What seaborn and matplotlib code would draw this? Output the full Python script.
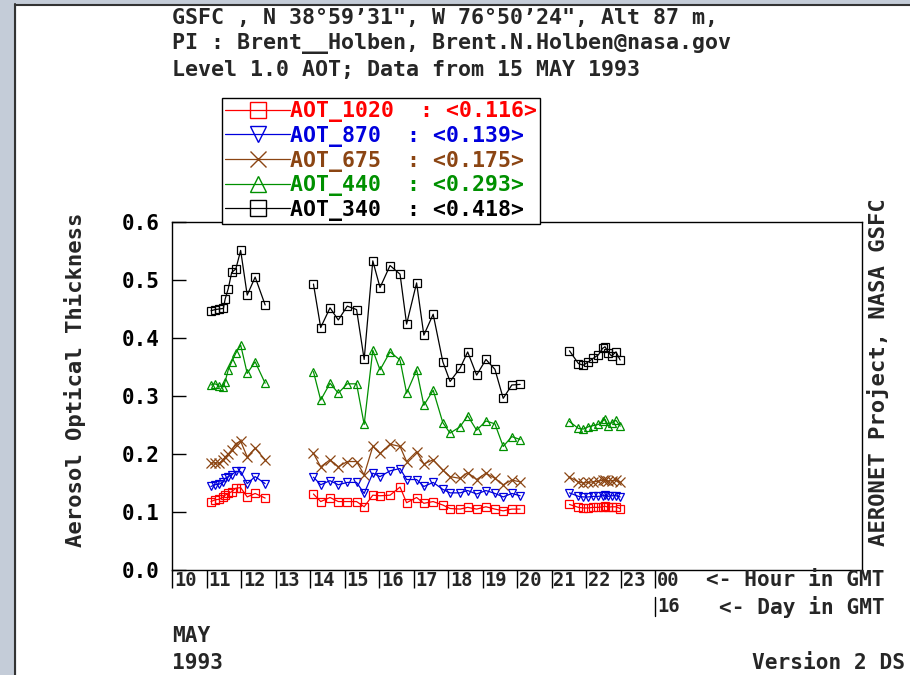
import numpy as np
import pandas as pd
import matplotlib
matplotlib.use("Agg")
import matplotlib.pyplot as plt
import seaborn as sns
from matplotlib import transforms
from matplotlib.lines import Line2D
from matplotlib.patches import Rectangle

# ---------------- data (hours in GMT, 15 May 1993) ----------------
hours_seg1 = [11.13, 11.25, 11.37, 11.49, 11.54, 11.63, 11.73, 11.85, 11.99, 12.18, 12.41, 12.70]
hours_seg2 = [14.10, 14.31, 14.58, 14.82, 15.08, 15.35, 15.57, 15.82, 16.03, 16.32, 16.61, 16.80,
              17.09, 17.30, 17.57, 17.85, 18.06, 18.35, 18.57, 18.83, 19.10, 19.36, 19.60, 19.85, 20.09]
hours_seg3 = [21.52, 21.78, 21.92, 22.07, 22.21, 22.36, 22.48, 22.55, 22.65, 22.74, 22.87, 22.99]

aot_340 = ([0.447, 0.449, 0.450, 0.451, 0.467, 0.485, 0.513, 0.519, 0.551, 0.474, 0.505, 0.457] +
           [0.493, 0.418, 0.452, 0.431, 0.455, 0.449, 0.363, 0.533, 0.487, 0.525, 0.510, 0.424,
            0.495, 0.405, 0.441, 0.359, 0.325, 0.348, 0.376, 0.336, 0.363, 0.346, 0.296, 0.319, 0.320] +
           [0.378, 0.356, 0.353, 0.359, 0.365, 0.371, 0.382, 0.385, 0.375, 0.369, 0.376, 0.362])
aot_440 = ([0.319, 0.321, 0.317, 0.316, 0.325, 0.345, 0.359, 0.374, 0.388, 0.339, 0.359, 0.322] +
           [0.342, 0.293, 0.322, 0.305, 0.321, 0.321, 0.251, 0.379, 0.345, 0.376, 0.362, 0.305,
            0.345, 0.284, 0.310, 0.254, 0.236, 0.247, 0.266, 0.241, 0.257, 0.252, 0.213, 0.230, 0.225] +
           [0.256, 0.244, 0.243, 0.247, 0.249, 0.251, 0.257, 0.260, 0.248, 0.254, 0.258, 0.248])
aot_675 = ([0.184, 0.185, 0.184, 0.190, 0.195, 0.200, 0.207, 0.218, 0.222, 0.195, 0.210, 0.190] +
           [0.201, 0.178, 0.190, 0.178, 0.187, 0.187, 0.164, 0.213, 0.201, 0.217, 0.213, 0.187,
            0.204, 0.183, 0.190, 0.172, 0.161, 0.158, 0.168, 0.156, 0.167, 0.158, 0.147, 0.155, 0.152] +
           [0.160, 0.152, 0.150, 0.151, 0.152, 0.153, 0.155, 0.156, 0.153, 0.154, 0.155, 0.151])
aot_870 = ([0.144, 0.147, 0.148, 0.152, 0.158, 0.161, 0.164, 0.170, 0.170, 0.149, 0.161, 0.149] +
           [0.160, 0.147, 0.154, 0.147, 0.151, 0.151, 0.132, 0.167, 0.161, 0.171, 0.175, 0.156,
            0.156, 0.144, 0.151, 0.139, 0.133, 0.133, 0.137, 0.131, 0.137, 0.132, 0.126, 0.132, 0.128] +
           [0.133, 0.127, 0.126, 0.126, 0.127, 0.127, 0.128, 0.129, 0.127, 0.128, 0.128, 0.126])
aot_1020 = ([0.118, 0.121, 0.122, 0.126, 0.129, 0.132, 0.135, 0.141, 0.142, 0.126, 0.132, 0.124] +
            [0.131, 0.118, 0.125, 0.118, 0.118, 0.118, 0.109, 0.129, 0.128, 0.129, 0.143, 0.116,
             0.125, 0.115, 0.118, 0.112, 0.106, 0.105, 0.108, 0.105, 0.109, 0.105, 0.102, 0.105, 0.105] +
            [0.113, 0.108, 0.107, 0.107, 0.108, 0.108, 0.109, 0.110, 0.108, 0.109, 0.109, 0.106])

series_names = ["AOT_1020", "AOT_870", "AOT_675", "AOT_440", "AOT_340"]
series_values = [aot_1020, aot_870, aot_675, aot_440, aot_340]
legend_means = ["0.116", "0.139", "0.175", "0.293", "0.418"]

hour_ticks = list(range(10, 25))
hour_labels = ["10", "11", "12", "13", "14", "15", "16", "17", "18", "19", "20", "21", "22", "23", "00"]
y_ticks = [0.0, 0.1, 0.2, 0.3, 0.4, 0.5, 0.6]
y_labels = ["0.0", "0.1", "0.2", "0.3", "0.4", "0.5", "0.6"]
day_tick_hour = 24
day_label = "16"

# ---------------- styles ----------------
colors = {"AOT_1020": "#ff0000", "AOT_870": "#0000dd", "AOT_675": "#8b4513",
          "AOT_440": "#009000", "AOT_340": "#000000"}
markers = {"AOT_1020": "s", "AOT_870": "v", "AOT_675": "x", "AOT_440": "^", "AOT_340": "s"}

all_hours = hours_seg1 + hours_seg2 + hours_seg3
segments = [1] * len(hours_seg1) + [2] * len(hours_seg2) + [3] * len(hours_seg3)
frames = []
for name, vals in zip(series_names, series_values):
    frames.append(pd.DataFrame({"hour": all_hours, "aot": vals, "segment": segments, "series": name}))
df = pd.concat(frames, ignore_index=True)

sns.set_style("white")
plt.rcParams["font.family"] = ["DejaVu Sans Mono", "DejaVu Sans"]
plt.rcParams["font.weight"] = "bold"

W, H = 910, 675
fig = plt.figure(figsize=(W / 100, H / 100), dpi=100)
fig.patch.set_facecolor("white")

# screenshot frame
fig.add_artist(Rectangle((0, 0), 15 / W, 1, transform=fig.transFigure, color="#c4ccd8", zorder=-5))
fig.add_artist(Rectangle((0, 1 - 4 / H), 1, 4 / H, transform=fig.transFigure, color="#c4ccd8", zorder=-5))
fig.add_artist(Line2D([15.5 / W, 15.5 / W], [0, 1 - 4 / H], transform=fig.transFigure, color="#333333", lw=1.5))
fig.add_artist(Line2D([15.5 / W, 1], [1 - 4.5 / H, 1 - 4.5 / H], transform=fig.transFigure, color="#333333", lw=1.5))

ax = fig.add_axes([172 / W, 105 / H, 690 / W, 348 / H])
for name in series_names:
    sub = df[df["series"] == name]
    c = colors[name]
    sns.lineplot(data=sub, x="hour", y="aot", units="segment", estimator=None, sort=True,
                 color=c, marker=markers[name], markersize=5.5 if markers[name] != "x" else 6.5,
                 markerfacecolor="none", markeredgecolor=c, markeredgewidth=0.9,
                 linewidth=0.9, ax=ax, legend=False)

ax.set_xlim(10, 30)
ax.set_ylim(0, 0.6)
ax.set_xlabel("")
ax.set_ylabel("")
for s in ax.spines.values():
    s.set_color("black")
    s.set_linewidth(1.0)

ax.set_yticks(y_ticks)
ax.set_yticklabels(y_labels, fontsize=15, fontweight="bold")
ax.tick_params(axis="y", direction="in", length=10, width=1, pad=9, left=True, right=False, colors="black")
ax.set_xticks(hour_ticks)
ax.tick_params(axis="x", direction="out", length=13, width=1, bottom=True, labelbottom=False, colors="black")

xtrans = transforms.blended_transform_factory(ax.transData, ax.transAxes)
lab_trans = transforms.offset_copy(xtrans, fig=fig, x=2, y=0, units="dots")
for h, lab in zip(hour_ticks, hour_labels):
    ax.text(h, -10 / 348, lab, transform=lab_trans, ha="left", va="center",
            fontsize=13.5, fontweight="bold", clip_on=False)

ax.add_line(Line2D([day_tick_hour, day_tick_hour], [-27 / 348, -46 / 348], transform=xtrans,
                   color="black", lw=1, clip_on=False))
ax.text(day_tick_hour, -37 / 348, day_label, transform=lab_trans, ha="left", va="center",
        fontsize=13.5, fontweight="bold", clip_on=False)

fs = 15.6
def ftext(x, y, s, **kw):
    fig.text(x / W, 1 - y / H, s, fontweight="bold", **kw)

ftext(172, 18, "GSFC , N 38\u00b059\u201931\", W 76\u00b050\u201924\", Alt 87 m,", fontsize=fs, ha="left", va="center")
ftext(172, 44, "PI : Brent__Holben, Brent.N.Holben@nasa.gov", fontsize=fs, ha="left", va="center")
ftext(172, 70, "Level 1.0 AOT; Data from 15 MAY 1993", fontsize=fs, ha="left", va="center")

ftext(75, 380, "Aerosol Optical Thickness", fontsize=16, rotation=90, ha="center", va="center")
ftext(878, 372, "AERONET Project, NASA GSFC", fontsize=16, rotation=90, ha="center", va="center")

ftext(885, 580, "<- Hour in GMT", fontsize=15.2, ha="right", va="center")
ftext(885, 607, "<- Day in GMT", fontsize=15.2, ha="right", va="center")
ftext(172, 636, "MAY", fontsize=15.2, ha="left", va="center")
ftext(172, 663, "1993", fontsize=15.2, ha="left", va="center")
ftext(905, 663, "Version 2 DS", fontsize=15.2, ha="right", va="center")

handles = []
labels = []
for name, mean in zip(series_names, legend_means):
    c = colors[name]
    handles.append(Line2D([], [], color=c, lw=0.9, marker=markers[name], markersize=11,
                          markerfacecolor="none", markeredgecolor=c, markeredgewidth=1.0))
    labels.append(f"{name}  : <{mean}>")
leg = fig.legend(handles, labels, loc="upper left", bbox_to_anchor=(222 / W, 1 - 98 / H),
                 bbox_transform=fig.transFigure, frameon=True, fancybox=False, shadow=False,
                 borderaxespad=0, borderpad=0.15, handlelength=3.0, handletextpad=0.0,
                 labelspacing=0.17, prop={"family": "DejaVu Sans Mono", "weight": "bold", "size": 15.5})
leg.get_frame().set_edgecolor("black")
leg.get_frame().set_linewidth(1.0)
leg.get_frame().set_facecolor("white")
leg.get_frame().set_alpha(1)
for t, name in zip(leg.get_texts(), series_names):
    t.set_color(colors[name])

fig.savefig("out.png", dpi=100)
